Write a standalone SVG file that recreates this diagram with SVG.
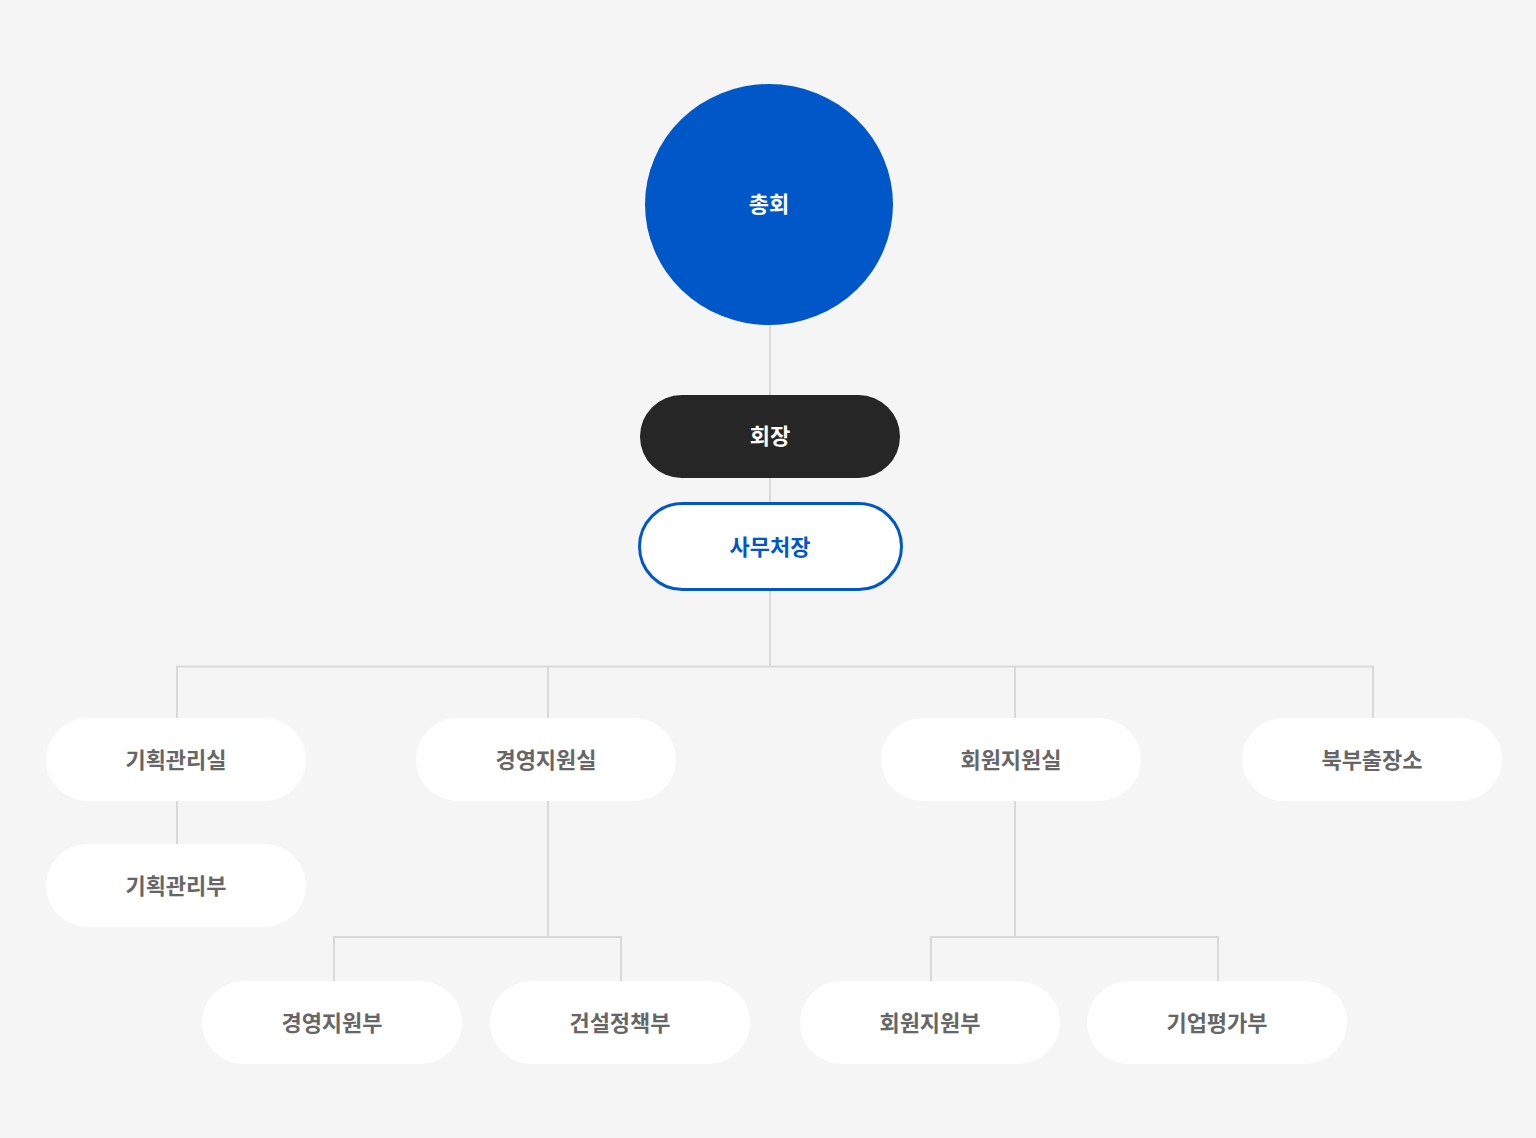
<svg xmlns="http://www.w3.org/2000/svg" width="1536" height="1138" viewBox="0 0 1536 1138">
<style>
.t{font-family:"Noto Sans CJK KR","Noto Sans",sans-serif;font-weight:700;font-size:22px;text-anchor:middle;dominant-baseline:central}
.g{fill:#666666}
.box{fill:#ffffff}
.ln{stroke:#d9d9d9;stroke-width:2;fill:none}
</style>
<rect width="1536" height="1138" fill="#f5f5f5"/>
<g id="connectors" class="ln">
<path d="M770 325V395M770 478V503M770 590V666.5"/>
<path d="M177 718V666.5H1373V718M548 666.5V718M1015 666.5V718"/>
<path d="M177 801V844"/>
<path d="M548 801V937M334 981V937H621V981"/>
<path d="M1015 801V937M931 981V937H1218V981"/>
</g>
<g id="n-assembly"><ellipse cx="769" cy="204.5" rx="124" ry="120.5" fill="#0057c8"/><text class="t" x="769" y="201.5" fill="#ffffff" font-size="23">총회</text></g>
<g id="n-chairman"><rect x="640" y="395" width="260" height="83" rx="41.5" fill="#262626"/><text class="t" x="770" y="434" fill="#ffffff">회장</text></g>
<g id="n-secretary"><rect x="639.5" y="503.5" width="262" height="86" rx="43" fill="#ffffff" stroke="#0057c8" stroke-width="3"/><text class="t" x="770" y="545" fill="#0057c8">사무처장</text></g>
<g id="n-plan-office"><rect class="box" x="46" y="718" width="260" height="83" rx="41.5"/><text class="t g" x="176" y="758">기획관리실</text></g>
<g id="n-mgmt-office"><rect class="box" x="416" y="718" width="260" height="83" rx="41.5"/><text class="t g" x="546" y="758">경영지원실</text></g>
<g id="n-member-office"><rect class="box" x="881" y="718" width="260" height="83" rx="41.5"/><text class="t g" x="1011" y="758">회원지원실</text></g>
<g id="n-north-branch"><rect class="box" x="1242" y="718" width="260" height="83" rx="41.5"/><text class="t g" x="1372" y="758">북부출장소</text></g>
<g id="n-plan-dept"><rect class="box" x="46" y="844" width="260" height="83" rx="41.5"/><text class="t g" x="176" y="884">기획관리부</text></g>
<g id="n-mgmt-dept"><rect class="box" x="202" y="981" width="260" height="83" rx="41.5"/><text class="t g" x="332" y="1021">경영지원부</text></g>
<g id="n-policy-dept"><rect class="box" x="490" y="981" width="260" height="83" rx="41.5"/><text class="t g" x="620" y="1021">건설정책부</text></g>
<g id="n-member-dept"><rect class="box" x="800" y="981" width="260" height="83" rx="41.5"/><text class="t g" x="930" y="1021">회원지원부</text></g>
<g id="n-eval-dept"><rect class="box" x="1087" y="981" width="260" height="83" rx="41.5"/><text class="t g" x="1217" y="1021">기업평가부</text></g>
</svg>
